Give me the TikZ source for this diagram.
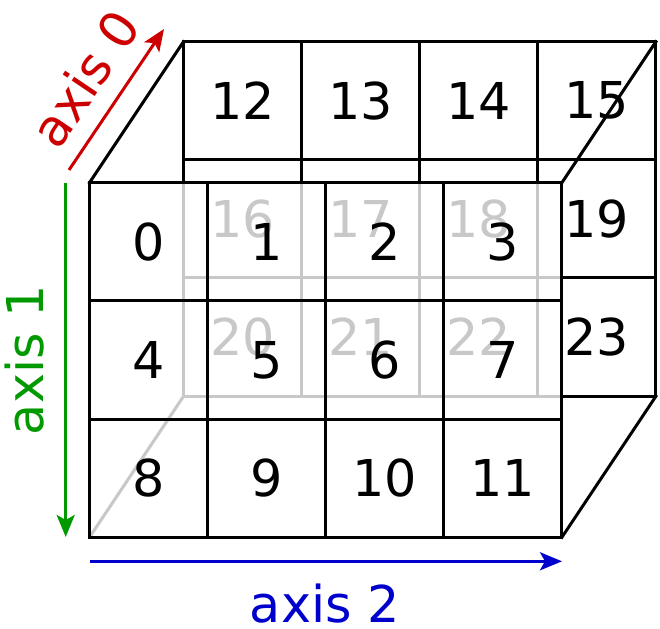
\documentclass[tikz,border=0pt]{standalone}
\usepackage{fontspec}
\setmainfont{DejaVu Sans}
\usetikzlibrary{arrows.meta}
\definecolor{hid}{RGB}{200,200,200}
\definecolor{axred}{RGB}{204,0,0}
\definecolor{axgreen}{RGB}{0,153,0}
\definecolor{axblue}{RGB}{0,0,204}
\begin{document}
\begin{tikzpicture}[x=1pt,y=1pt,
  edge/.style={line width=3pt, black, line cap=rect},
  hidden/.style={line width=3pt, hid},
  num/.style={font=\fontsize{50.8}{60}\selectfont, inner sep=0pt},
  hnum/.style={num, text=hid},
  axarrow/.style={line width=3pt, -{Stealth[length=22pt,width=18pt,inset=5pt]}},
  axlabel/.style={font=\fontsize{50.8}{60}\selectfont, inner sep=0pt}]
\useasboundingbox (0,0) rectangle (660,628);
% front face: left 89.5, bottom 90.7, cell 118.1 ; back offset (94,141)
\def\c{118.1}
% ---------- hidden (gray) back lines ----------
\foreach \i in {0,1,2,3}
  \draw[hidden] (183.5+\i*\c,231.7) -- (183.5+\i*\c,445.3);
\draw[hidden] (183.5,350.0) -- (561.9,350.0);
\draw[hidden] (183.5,231.7) -- (561.9,231.7);
\draw[hidden] (89.5,90.7) -- (183.5,231.7);
% hidden numbers
\node[hnum] (n16) at (242.6,409.1) {16};
\node[hnum] (n17) at (360.7,409.1) {17};
\node[hnum] (n18) at (478.8,409.1) {18};
\node[hnum] (n20) at (242.6,291.0) {20};
\node[hnum] (n21) at (360.7,291.0) {21};
\node[hnum] (n22) at (478.8,291.0) {22};
% ---------- visible back lines ----------
\draw[edge] (183.5,586.3) -- (655.9,586.3);
\draw[edge] (183.5,468.2) -- (655.9,468.2);
\foreach \i in {0,1,2,3}
  \draw[edge] (183.5+\i*\c,445.3) -- (183.5+\i*\c,586.3);
\draw[edge] (655.9,231.7) -- (655.9,586.3);
\draw[edge] (561.9,350.0) -- (655.9,350.0);
\draw[edge] (561.9,231.7) -- (655.9,231.7);
% depth edges
\draw[edge] (89.5,445.3) -- (183.5,586.3);
\draw[edge] (561.9,445.3) -- (655.9,586.3);
\draw[edge] (561.9,90.7) -- (655.9,231.7);
% ---------- front grid ----------
\foreach \i in {0,1,2,3,4}
  \draw[edge] (89.5+\i*\c,90.7) -- (89.5+\i*\c,445.3);
\foreach \j in {0,1,2,3}
  \draw[edge] (89.5,90.7+\j*118.2) -- (561.9,90.7+\j*118.2);
% back visible numbers
\node[num] (n12) at (242.6,527.2) {12};
\node[num] (n13) at (360.7,527.2) {13};
\node[num] (n14) at (478.8,527.2) {14};
\node[num] (n15) at (596.9,527.2) {15};
\node[num] (n19) at (596.9,409.1) {19};
\node[num] (n23) at (596.9,291.0) {23};
% front numbers
\node[num] (n0) at (148.6,386.2) {0};
\node[num] (n1) at (266.7,386.2) {1};
\node[num] (n2) at (384.8,386.2) {2};
\node[num] (n3) at (502.9,386.2) {3};
\node[num] (n4) at (148.6,268.1) {4};
\node[num] (n5) at (266.7,268.1) {5};
\node[num] (n6) at (384.8,268.1) {6};
\node[num] (n7) at (502.9,268.1) {7};
\node[num] (n8) at (148.6,150.0) {8};
\node[num] (n9) at (266.7,150.0) {9};
\node[num] (n10) at (384.8,150.0) {10};
\node[num] (n11) at (502.9,150.0) {11};
% ---------- axes ----------
\coordinate (a0s) at (69,458);
\coordinate (a0e) at (164,599);
\draw[axarrow, axred] (a0s) -- (a0e);
\node[axlabel, text=axred, rotate=56] (l0) at (85,549.7) {axis 0};
\coordinate (a1s) at (65.7,445);
\coordinate (a1e) at (65.7,91);
\draw[axarrow, axgreen] (a1s) -- (a1e);
\node[axlabel, text=axgreen, rotate=90] (l1) at (24.5,268) {axis 1};
\coordinate (a2s) at (89.5,66.7);
\coordinate (a2e) at (562,66.7);
\draw[axarrow, axblue] (a2s) -- (a2e);
\node[axlabel, text=axblue] (l2) at (325,24) {axis 2};
\end{tikzpicture}
\end{document}
